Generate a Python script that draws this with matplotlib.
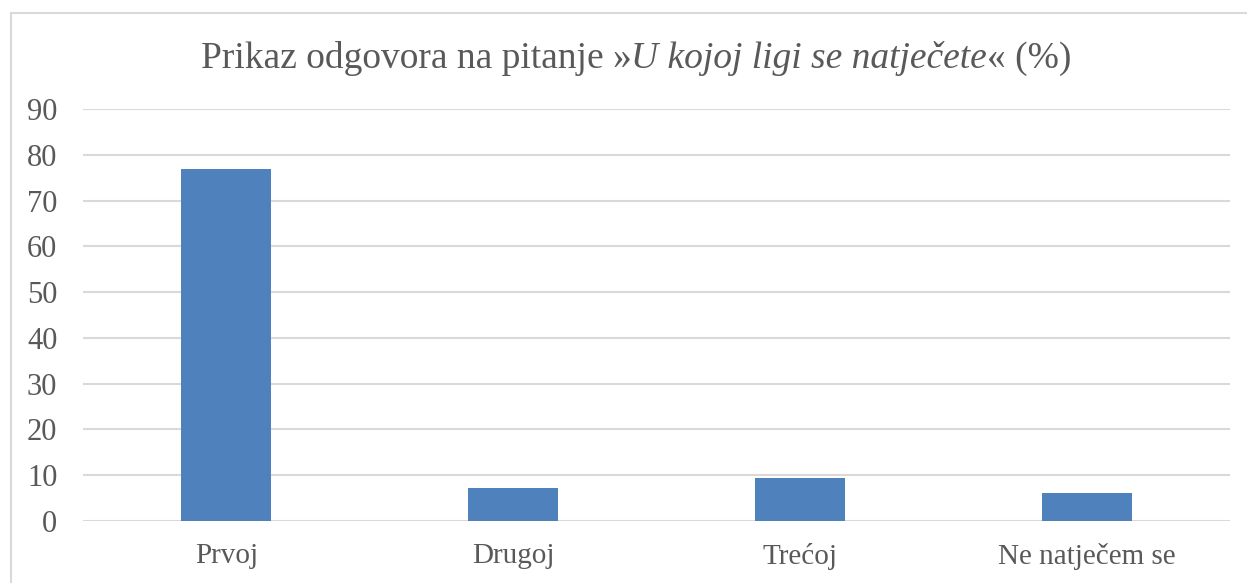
import matplotlib
matplotlib.use("Agg")
import matplotlib.pyplot as plt
from matplotlib.patches import Rectangle

categories = ["Prvoj", "Drugoj", "Trećoj", "Ne natječem se"]
values = [76.8, 7.2, 9.4, 6.2]
yticks = [0, 10, 20, 30, 40, 50, 60, 70, 80, 90]

W, H = 1247, 583
fig = plt.figure(figsize=(W / 100, H / 100), dpi=100)
plt.rcParams['font.family'] = ['Liberation Serif', 'DejaVu Serif']

# chart border
fig.patches.append(Rectangle((11 / W, -0.1), 1.2, 1 - 13 / H + 0.1, transform=fig.transFigure,
                             fill=False, edgecolor='#d9d9d9', linewidth=1.5))

ax = fig.add_axes([83 / W, 1 - 521 / H, (1230 - 83) / W, (521 - 109) / H])
x = range(len(categories))
ax.bar(x, values, width=0.313, color='#4f81bd', zorder=3)
ax.set_xlim(-0.5, len(categories) - 0.5)
ax.set_ylim(0, 90)
ax.set_yticks(yticks)
ax.set_xticks(list(x))
ax.set_xticklabels(categories)
for s in ax.spines.values():
    s.set_visible(False)
ax.grid(axis='y', color='#d9d9d9', linewidth=1.5, zorder=0)
ax.tick_params(axis='both', length=0, labelcolor='#595959')
ax.tick_params(axis='y', pad=18.5, labelsize=22)
ax.tick_params(axis='x', pad=16, labelsize=21)

# title in three pieces (regular / italic / regular)
parts = [("Prikaz odgovora na pitanje »", 'normal'),
         ("U kojoj ligi se natječete", 'italic'),
         ("« (%)", 'normal')]
renderer = fig.canvas.get_renderer()
texts = []
for s, st in parts:
    t = fig.text(0, 1 - 59 / H, s, fontsize=27, style=st, color='#595959', va='center', ha='left')
    texts.append(t)
widths = [t.get_window_extent(renderer).width for t in texts]
total = sum(widths)
xpos = 636 - total / 2
for t, w in zip(texts, widths):
    t.set_x(xpos / W)
    xpos += w

fig.savefig("out.png", dpi=100)
